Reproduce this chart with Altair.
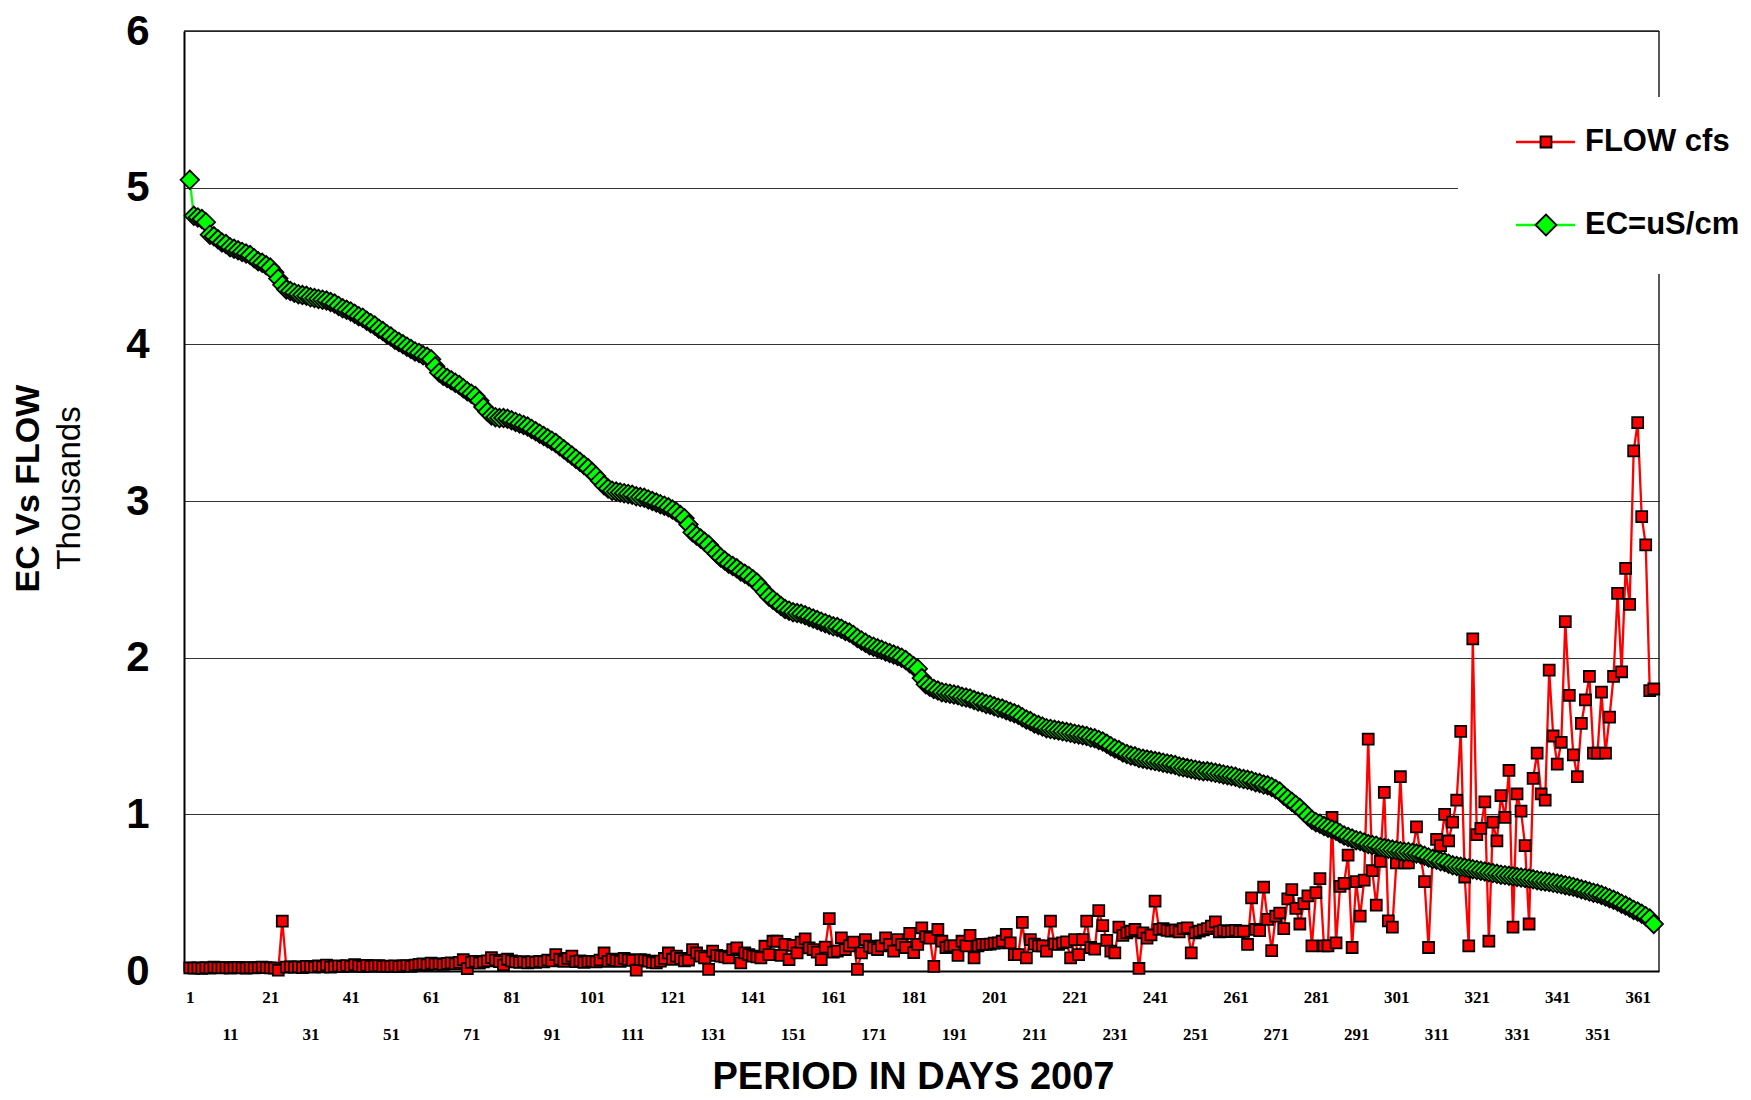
import altair as alt
import pandas as pd

# ---------------- data ----------------
days = list(range(1, 366))

flow_cfs = [
    20, 18, 20, 17, 22, 19, 24, 21, 20, 22,
    19, 21, 23, 20, 19, 22, 20, 21, 25, 22,
    20, 18, 5, 318, 25, 27, 24, 26, 22, 30,
    28, 24, 32, 27, 38, 25, 30, 33, 28, 35,
    30, 40, 33, 28, 36, 30, 32, 34, 29, 31,
    30, 33, 28, 32, 35, 30, 38, 42, 45, 40,
    50, 44, 46, 42, 48, 52, 45, 55, 72, 15,
    55, 62, 50, 58, 65, 85, 70, 60, 38, 75,
    65, 58, 55, 60, 52, 58, 55, 62, 58, 70,
    65, 105, 75, 62, 80, 95, 60, 65, 55, 60,
    62, 58, 70, 115, 62, 75, 68, 62, 80, 72,
    68, 5, 72, 70, 63, 55, 52, 63, 80, 115,
    75, 95, 80, 65, 70, 137, 115, 95, 84, 10,
    127, 100, 95, 90, 84, 137, 148, 52, 116, 105,
    95, 90, 84, 158, 105, 190, 190, 100, 170, 73,
    163, 116, 184, 205, 148, 137, 120, 73, 152, 335,
    120, 127, 212, 137, 160, 184, 10, 116, 200, 158,
    148, 137, 160, 212, 170, 127, 200, 170, 150, 240,
    118, 170, 276, 220, 210, 30, 265, 190, 150, 160,
    160, 100, 190, 160, 227, 84, 160, 170, 170, 172,
    178, 180, 190, 233, 180, 105, 105, 310, 84, 200,
    172, 160, 160, 127, 318, 173, 170, 180, 186, 84,
    200, 105, 200, 318, 150, 140, 386, 290, 195, 127,
    116, 280, 227, 244, 254, 265, 16, 244, 210, 230,
    446, 265, 270, 260, 255, 262, 250, 270, 276, 116,
    244, 254, 262, 270, 286, 314, 250, 258, 252, 255,
    260, 252, 254, 170, 467, 265, 258, 535, 330, 130,
    350, 370, 270, 460, 520, 400, 300, 430, 480, 160,
    500, 590, 160, 160, 980, 180, 540, 560, 740, 150,
    570, 350, 580, 1480, 640, 420, 700, 1140, 320, 280,
    690, 1240, 690, 690, 760, 920, 740, 570, 150, 720,
    840, 800, 1000, 830, 950, 1090, 1530, 600, 160, 2120,
    870, 910, 1080, 190, 950, 830, 1120, 980, 1280, 280,
    1130, 1020, 800, 300, 1230, 1390, 1130, 1090, 1920, 1500,
    1320, 1460, 2230, 1760, 1380, 1240, 1580, 1730, 1880, 1390,
    1390, 1780, 1390, 1620, 1880, 2410, 1910, 2570, 2340, 3320,
    3500, 2900, 2720, 1790, 1800,
]

ec_us_cm = [
    5050, 4820, 4810, 4800, 4780, 4700, 4690, 4670, 4650, 4640,
    4620, 4610, 4600, 4590, 4580, 4570, 4550, 4530, 4520, 4505,
    4490, 4460, 4420, 4380, 4350, 4340, 4330, 4320, 4315, 4310,
    4300, 4295, 4290, 4285, 4280, 4270, 4260, 4245, 4230, 4220,
    4210, 4195, 4180, 4170, 4150, 4135, 4120, 4100, 4085, 4065,
    4050, 4030, 4015, 4000, 3985, 3970, 3955, 3945, 3930, 3920,
    3905, 3860, 3820, 3800, 3785, 3770, 3755, 3740, 3720, 3700,
    3685, 3670, 3640, 3600, 3570, 3545, 3535, 3530, 3530, 3525,
    3515, 3505, 3495, 3485, 3475, 3460, 3445, 3430, 3415, 3400,
    3385, 3370, 3350, 3330, 3310, 3290, 3270, 3250, 3230, 3210,
    3185, 3160, 3130, 3100, 3080, 3065, 3060, 3055, 3050, 3045,
    3040, 3030, 3025, 3020, 3010, 3000, 2990, 2980, 2970, 2960,
    2945, 2930, 2910, 2890, 2850, 2800, 2780, 2760, 2740, 2720,
    2690, 2665, 2640, 2620, 2600, 2585, 2570, 2550, 2535, 2520,
    2500, 2480, 2450, 2420, 2390, 2370, 2350, 2330, 2310, 2300,
    2290, 2285, 2280, 2270, 2260, 2250, 2240, 2230, 2220, 2210,
    2200, 2195, 2185, 2170, 2160, 2145, 2125, 2110, 2095, 2080,
    2070, 2060, 2050, 2040, 2030, 2020, 2010, 2000, 1985, 1965,
    1945, 1930, 1870, 1830, 1815, 1800, 1790, 1780, 1775, 1770,
    1765, 1760, 1750, 1745, 1740, 1730, 1720, 1715, 1705, 1700,
    1690, 1680, 1675, 1665, 1655, 1645, 1635, 1620, 1605, 1595,
    1580, 1570, 1560, 1550, 1545, 1540, 1535, 1530, 1525, 1520,
    1515, 1510, 1505, 1500, 1490, 1485, 1475, 1465, 1450, 1435,
    1420, 1410, 1395, 1385, 1375, 1370, 1360, 1355, 1350, 1345,
    1340, 1335, 1330, 1325, 1320, 1315, 1305, 1300, 1295, 1290,
    1285, 1280, 1275, 1275, 1270, 1265, 1260, 1255, 1250, 1245,
    1240, 1230, 1225, 1220, 1215, 1205, 1200, 1190, 1185, 1175,
    1160, 1145, 1120, 1100, 1080, 1060, 1040, 1015, 990, 965,
    950, 940, 925, 915, 905, 895, 880, 865, 855, 845,
    835, 830, 820, 810, 805, 800, 790, 785, 780, 775,
    770, 765, 760, 760, 755, 750, 745, 735, 725, 715,
    710, 700, 695, 685, 675, 670, 665, 660, 655, 650,
    645, 640, 635, 630, 625, 620, 615, 612, 608, 604,
    600, 597, 594, 590, 585, 580, 575, 572, 568, 563,
    558, 553, 548, 543, 537, 530, 522, 515, 507, 500,
    494, 485, 475, 465, 455, 443, 430, 418, 405, 390,
    380, 365, 350, 335, 300,
]

series_names = ["FLOW cfs", "EC=uS/cm"]
series_colors = ["#FF0000", "#00FF00"]
series_shapes = ["square", "diamond"]
series_sizes = [120, 340]
legend_sizes = [120, 440]
y_tick_values = [0, 1, 2, 3, 4, 5, 6]
x_tick_values = list(range(1, 362, 10))
y_title = "EC Vs FLOW"
y_subtitle = "Thousands"
x_title = "PERIOD IN DAYS 2007"

# ---------------- table ----------------
rows = []
for d, f in zip(days, flow_cfs):
    rows.append({"day": d, "series": series_names[0], "value": f / 1000.0})
for d, e in zip(days, ec_us_cm):
    rows.append({"day": d, "series": series_names[1], "value": e / 1000.0})
df = pd.DataFrame(rows)

PLOT_W, PLOT_H = 1475, 940
FRAME = "#222222"

x_enc = alt.X(
    "day:Q",
    scale=alt.Scale(domain=[-0.44, 366.3], nice=False, zero=False),
    axis=alt.Axis(
        values=x_tick_values,
        labelExpr="datum.value % 20 == 1 ? datum.label : [' ', datum.label]",
        labelFont="Liberation Serif", labelFontSize=17, labelFontWeight="bold",
        labelColor="black", labelPadding=18, labelLineHeight=37,
        labelOverlap=False, labelFlush=False, labelBound=False,
        ticks=False, grid=False, domainColor="black", domainWidth=2,
        title=x_title, titleFont="Liberation Sans", titleFontSize=38,
        titleFontWeight="bold", titleColor="black",
        titleX=729, titleY=106, titleBaseline="middle", titleAlign="center",
    ),
)
y_enc = alt.Y(
    "value:Q",
    scale=alt.Scale(domain=[0, 6], nice=False, zero=True),
    axis=alt.Axis(
        values=y_tick_values, format="d",
        labelFont="Liberation Sans", labelFontSize=42, labelFontWeight="bold",
        labelColor="black", labelPadding=35,
        ticks=False, grid=True, gridColor="#333333", gridWidth=1,
        domainColor="black", domainWidth=2,
        title=y_title, titleFont="Liberation Sans", titleFontSize=34,
        titleFontWeight="bold", titleColor="black",
        titleX=-156, titleY=457, titleAngle=270,
        titleBaseline="middle", titleAlign="center",
    ),
)

one = pd.DataFrame({"k": [0]})

# plot frame (top / right edges)
frame_right = alt.Chart(one).mark_rule(color=FRAME, strokeWidth=1.5).encode(
    x=alt.value(PLOT_W), y=alt.value(0), y2=alt.value(PLOT_H))
frame_top = alt.Chart(one).mark_rule(color=FRAME, strokeWidth=1.5).encode(
    x=alt.value(0), x2=alt.value(PLOT_W), y=alt.value(0))

base = alt.Chart(df)

lines = base.mark_line(strokeWidth=2.3).encode(
    x=x_enc, y=y_enc,
    color=alt.Color("series:N",
                    scale=alt.Scale(domain=series_names, range=series_colors),
                    legend=None),
)

points = base.mark_point(filled=True, stroke="black", strokeWidth=1.8, opacity=1).encode(
    x=x_enc, y=y_enc,
    fill=alt.Fill("series:N",
                  scale=alt.Scale(domain=series_names, range=series_colors),
                  legend=None),
    shape=alt.Shape("series:N",
                    scale=alt.Scale(domain=series_names, range=series_shapes),
                    legend=None),
    size=alt.Size("series:N",
                  scale=alt.Scale(domain=series_names, range=series_sizes),
                  legend=None),
)

sub = alt.Chart(pd.DataFrame({"label": [y_subtitle]})).mark_text(
    angle=270, font="Liberation Sans", fontSize=33, fontWeight="normal",
    color="black", align="center", baseline="middle",
).encode(x=alt.value(-114), y=alt.value(457), text="label:N")

# ---------------- legend (white box, sample lines, markers, labels) ----------------
legend_box = alt.Chart(one).mark_rect(color="white").encode(
    x=alt.value(1274), x2=alt.value(1559), y=alt.value(66), y2=alt.value(243))

legend_layers = [legend_box]
legend_rows_y = [111, 194]
for name, col, shp, sz, yc in zip(series_names, series_colors, series_shapes,
                                  legend_sizes, legend_rows_y):
    src = alt.Chart(pd.DataFrame({"label": [name]}))
    legend_layers.append(
        src.mark_rule(color=col, strokeWidth=2.3).encode(
            x=alt.value(1332), x2=alt.value(1391), y=alt.value(yc)))
    legend_layers.append(
        src.mark_point(filled=True, shape=shp, size=sz, fill=col, stroke="black",
                       strokeWidth=1.8, opacity=1).encode(
            x=alt.value(1362), y=alt.value(yc)))
    legend_layers.append(
        src.mark_text(font="Liberation Sans", fontSize=31, fontWeight="bold",
                      color="black", align="left", baseline="middle").encode(
            x=alt.value(1401), y=alt.value(yc), text="label:N"))

chart = (
    alt.layer(frame_right, frame_top, lines, points, sub, *legend_layers)
    .properties(
        width=PLOT_W, height=PLOT_H,
        autosize=alt.AutoSizeParams(type="none"),
        padding={"left": 176, "top": 23, "right": 84, "bottom": 126},
        background="white",
    )
    .configure(font="Liberation Sans")
    .configure_view(stroke=None)
)

chart.save("out.html", embed_options={"renderer": "svg", "actions": False})
